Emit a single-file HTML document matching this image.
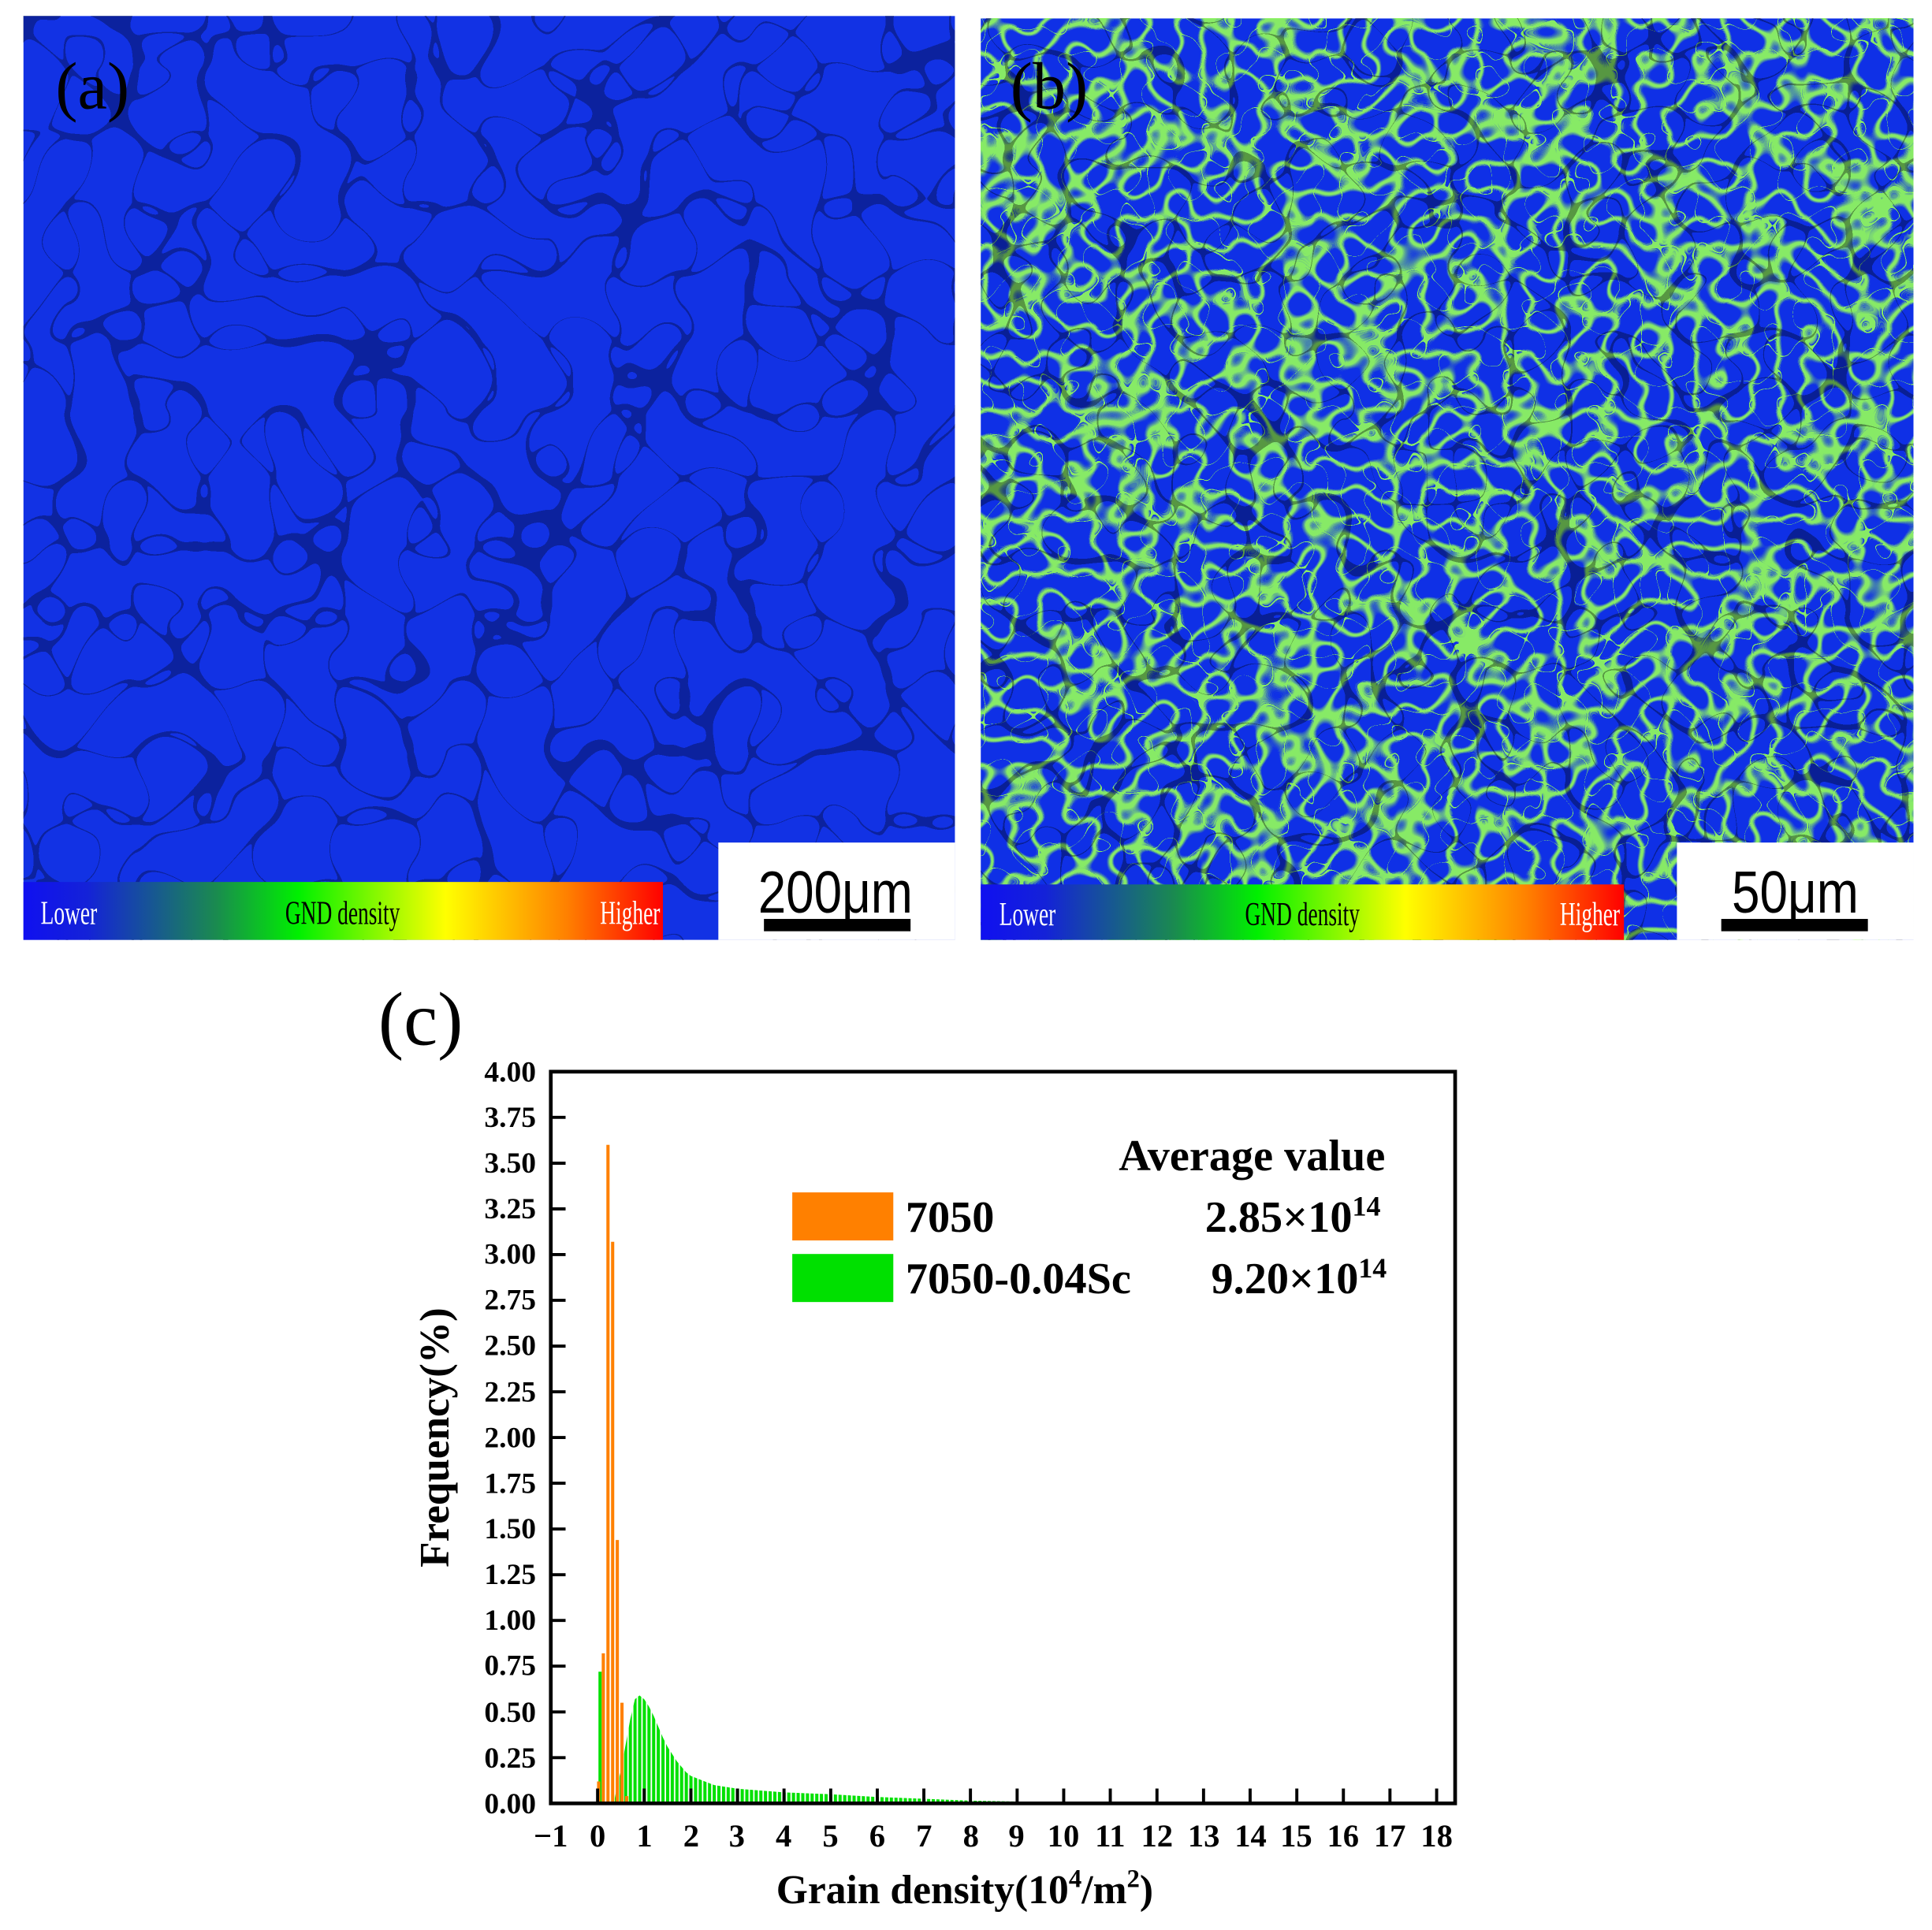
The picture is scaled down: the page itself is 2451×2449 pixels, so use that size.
<!DOCTYPE html>
<html><head><meta charset="utf-8"><style>
html,body{margin:0;padding:0;background:#fff;}
svg{display:block;}
text{font-family:"Liberation Serif",serif;}
</style></head><body>
<svg width="2451" height="2449" viewBox="0 0 1568 1566.8" xmlns="http://www.w3.org/2000/svg">
<defs>
<linearGradient id="cb" x1="0" x2="1" y1="0" y2="0">
<stop offset="0" stop-color="#1010f0"/><stop offset="0.1" stop-color="#1422d8"/>
<stop offset="0.3" stop-color="#1a8a50"/><stop offset="0.43" stop-color="#00f000"/>
<stop offset="0.66" stop-color="#ffff00"/><stop offset="0.85" stop-color="#ff8000"/>
<stop offset="1" stop-color="#ff0000"/></linearGradient>
<pattern id="gp" patternUnits="userSpaceOnUse" x="483.8" y="0" width="3.783" height="2000">
<rect x="0" y="0" width="2.6" height="2000" fill="#00e000"/></pattern>
<filter id="gbA" x="0" y="0" width="1" height="1" filterUnits="objectBoundingBox">
<feTurbulence type="turbulence" baseFrequency="0.018" numOctaves="1" seed="3"/>
<feColorMatrix type="matrix" values="0 0 0 0 0  0 0 0 0 0  0 0 0 0 0  -160 0 0 0 1.2"/>
</filter>
<filter id="gbB" x="0" y="0" width="1" height="1" filterUnits="objectBoundingBox">
<feTurbulence type="turbulence" baseFrequency="0.022" numOctaves="1" seed="7"/>
<feColorMatrix type="matrix" values="0 0 0 0 0  0 0 0 0 0  0 0 0 0 0  -160 0 0 0 1.2"/>
</filter>
<filter id="grB" x="0" y="0" width="1" height="1" filterUnits="objectBoundingBox">
<feTurbulence type="turbulence" baseFrequency="0.045" numOctaves="1" seed="11"/>
<feColorMatrix type="matrix" values="0 0 0 0 0.3  0 0 0 0 1  0 0 0 0 0.1  -9 0 0 0 1.35"/>
</filter>
</defs>

<!-- Panel a -->
<rect x="19" y="13" width="756" height="750" fill="#1232e4"/>
<rect x="19" y="13" width="756" height="750" filter="url(#gbA)" opacity="0.3"/>
<rect x="583" y="684" width="192" height="79" fill="#fff"/>
<rect x="19" y="716" width="519" height="47" fill="url(#cb)"/>
<text x="33" y="750" font-size="27" fill="#fff" transform="translate(33 0) scale(0.65 1) translate(-33 0)">Lower</text>
<text x="278" y="750" font-size="27" fill="#000" text-anchor="middle" transform="translate(278 0) scale(0.65 1) translate(-278 0)">GND density</text>
<text x="487" y="750" font-size="27" fill="#fff" transform="translate(487 0) scale(0.65 1) translate(-487 0)">Higher</text>
<text x="678" y="741" font-size="48" text-anchor="middle" style="font-family:'Liberation Sans',sans-serif" transform="translate(678 0) scale(0.85 1) translate(-678 0)">200μm</text>
<rect x="620" y="746" width="119" height="10" fill="#000"/>
<text x="45" y="88" font-size="54" fill="#000">(a)</text>

<!-- Panel b -->
<rect x="796" y="15" width="757" height="748" fill="#0f30e6"/>
<rect x="796" y="15" width="757" height="748" filter="url(#grB)" opacity="0.9"/>
<rect x="796" y="15" width="757" height="748" filter="url(#gbB)" opacity="0.35"/>
<rect x="1361" y="684" width="192" height="79" fill="#fff"/>
<rect x="796" y="718" width="522" height="45" fill="url(#cb)"/>
<text x="811" y="751" font-size="27" fill="#fff" transform="translate(811 0) scale(0.65 1) translate(-811 0)">Lower</text>
<text x="1057" y="751" font-size="27" fill="#000" text-anchor="middle" transform="translate(1057 0) scale(0.65 1) translate(-1057 0)">GND density</text>
<text x="1266" y="751" font-size="27" fill="#fff" transform="translate(1266 0) scale(0.65 1) translate(-1266 0)">Higher</text>
<text x="1457" y="741" font-size="48" text-anchor="middle" style="font-family:'Liberation Sans',sans-serif" transform="translate(1457 0) scale(0.85 1) translate(-1457 0)">50μm</text>
<rect x="1397" y="746" width="119" height="10" fill="#000"/>
<text x="820" y="88" font-size="54" fill="#000">(b)</text>

<!-- Panel c -->
<text x="307" y="848" font-size="62" fill="#000">(c)</text>

<rect x="485.7" y="1357.1" width="2.6" height="106.9" fill="#00e000"/>
<polygon fill="url(#gp)" points="498.2,1464 500.1,1453.6 503.9,1437.3 507.7,1416.5 511.5,1395.7 515.3,1379.4 519,1376.4 522.8,1379.4 526.6,1385.3 530.4,1392.7 534.2,1401.6 538,1410.5 541.7,1418 545.5,1423.9 549.3,1429.8 553.1,1434.3 556.9,1438.8 560.7,1441.7 568.2,1444.7 579.6,1449.2 598.5,1452.1 636.3,1455.1 674.2,1456.6 712,1458.8 749.8,1460.3 787.6,1461.8 825.5,1462.5 863.3,1463.3 882.2,1464"/>
<g fill="#ff8000">
<rect x="484.56" y="1446.2" width="2.6" height="17.8"/>
<rect x="488.34" y="1342.2" width="2.6" height="121.8"/>
<rect x="492.12" y="929.4" width="2.6" height="534.6"/>
<rect x="495.91" y="1008.1" width="2.6" height="455.9"/>
<rect x="499.69" y="1250.2" width="2.6" height="213.8"/>
<rect x="503.47" y="1382.3" width="2.6" height="81.7"/>
<rect x="507.25" y="1458.1" width="2.6" height="5.9"/>
</g>

<path stroke="#000" stroke-width="2.5" fill="none" d="
M447 1464h12M447 1426.9h12M447 1389.8h12M447 1352.6h12M447 1315.5h12M447 1278.4h12M447 1241.3h12M447 1204.1h12M447 1167h12M447 1129.9h12M447 1092.8h12M447 1055.6h12M447 1018.5h12M447 981.4h12M447 944.3h12M447 907.1h12M447 870h12
M485 1464v-12M522.8 1464v-12M560.7 1464v-12M598.5 1464v-12M636.3 1464v-12M674.2 1464v-12M712 1464v-12M749.8 1464v-12M787.6 1464v-12M825.5 1464v-12M863.3 1464v-12M901.1 1464v-12M939 1464v-12M976.8 1464v-12M1014.6 1464v-12M1052.5 1464v-12M1090.3 1464v-12M1128.1 1464v-12M1166 1464v-12"/>
<rect x="447" y="870" width="734" height="594" fill="none" stroke="#000" stroke-width="3"/>

<g font-size="24" font-weight="bold" text-anchor="end">
<text x="435" y="878">4.00</text><text x="435" y="915">3.75</text><text x="435" y="952">3.50</text>
<text x="435" y="989">3.25</text><text x="435" y="1026">3.00</text><text x="435" y="1063">2.75</text>
<text x="435" y="1100">2.50</text><text x="435" y="1138">2.25</text><text x="435" y="1175">2.00</text>
<text x="435" y="1212">1.75</text><text x="435" y="1249">1.50</text><text x="435" y="1286">1.25</text>
<text x="435" y="1323">1.00</text><text x="435" y="1360">0.75</text><text x="435" y="1398">0.50</text>
<text x="435" y="1435">0.25</text><text x="435" y="1472">0.00</text>
</g>
<g font-size="26" font-weight="bold" text-anchor="middle">
<text x="447" y="1499">−1</text><text x="485" y="1499">0</text><text x="523" y="1499">1</text>
<text x="561" y="1499">2</text><text x="598" y="1499">3</text><text x="636" y="1499">4</text>
<text x="674" y="1499">5</text><text x="712" y="1499">6</text><text x="750" y="1499">7</text>
<text x="788" y="1499">8</text><text x="825" y="1499">9</text><text x="863" y="1499">10</text>
<text x="901" y="1499">11</text><text x="939" y="1499">12</text><text x="977" y="1499">13</text>
<text x="1015" y="1499">14</text><text x="1052" y="1499">15</text><text x="1090" y="1499">16</text>
<text x="1128" y="1499">17</text><text x="1166" y="1499">18</text>
</g>
<text x="783" y="1545" font-size="33" font-weight="bold" text-anchor="middle">Grain density(10<tspan dy="-13" font-size="21">4</tspan><tspan dy="13">/m</tspan><tspan dy="-13" font-size="21">2</tspan><tspan dy="13">)</tspan></text>
<text x="0" y="0" font-size="34" font-weight="bold" text-anchor="middle" transform="translate(364 1167) rotate(-90)">Frequency(%)</text>

<text x="908" y="950" font-size="36" font-weight="bold">Average value</text>
<rect x="643" y="968" width="82" height="39" fill="#ff8000"/>
<rect x="643" y="1018" width="82" height="39" fill="#00e000"/>
<text x="735" y="1000" font-size="36" font-weight="bold">7050</text>
<text x="735" y="1050" font-size="36" font-weight="bold">7050-0.04Sc</text>
<text x="978" y="1000" font-size="36" font-weight="bold">2.85×10<tspan dy="-13" font-size="23">14</tspan></text>
<text x="983" y="1050" font-size="36" font-weight="bold">9.20×10<tspan dy="-13" font-size="23">14</tspan></text>
</svg>
</body></html>
